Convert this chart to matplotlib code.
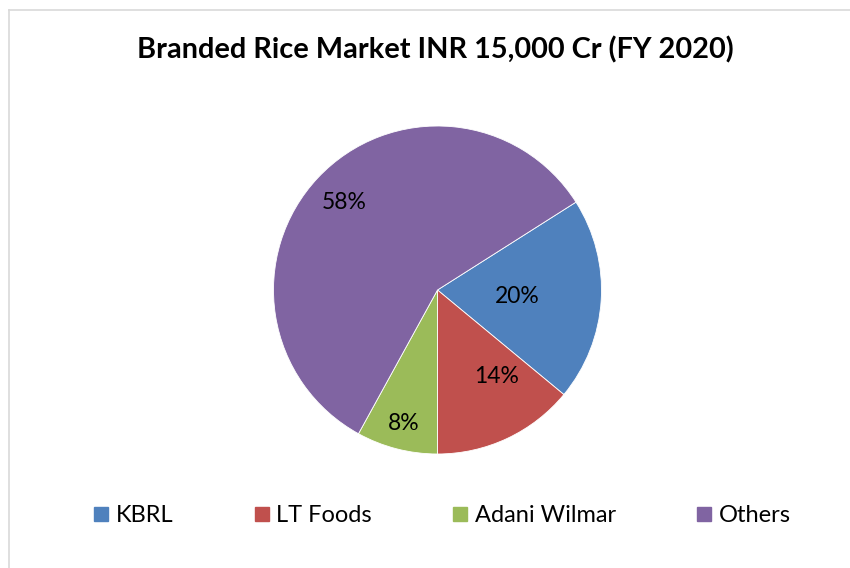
import matplotlib.pyplot as plt
from matplotlib.lines import Line2D
import numpy as np

plt.rcParams['font.family'] = ['Lato', 'DejaVu Sans']

labels = ["KBRL", "LT Foods", "Adani Wilmar", "Others"]
shares = [20, 14, 8, 58]
colors = ["#4F81BD", "#C0504D", "#9BBB59", "#8064A2"]

# label placement (fraction of radius, angle tweak in degrees)
lab_r = [0.49, 0.64, 0.84, 0.78]
lab_dang = [-1, 9, 0, 0]

fig = plt.figure(figsize=(8.5, 5.68), dpi=100)
W, H = 850, 568

# pie axes: center (437, 290), radius 164 px
cx, cy, R = 437.5, 290, 164
ax = fig.add_axes([(cx - R) / W, 1 - (cy + R) / H, 2 * R / W, 2 * R / H])
wedges, _ = ax.pie(shares, colors=colors, startangle=32.4, counterclock=False,
                   radius=1, wedgeprops=dict(edgecolor="white", linewidth=0.6))
ax.set_xlim(-1, 1)
ax.set_ylim(-1, 1)
ax.set_aspect("equal")

for w, s, r, d in zip(wedges, shares, lab_r, lab_dang):
    mid = np.deg2rad((w.theta1 + w.theta2) / 2 + d)
    ax.text(r * np.cos(mid), r * np.sin(mid), f"{s}%", ha="center", va="center",
            fontsize=16.5, color="black")

fig.text(435 / W, 1 - 50 / H, "Branded Rice Market INR 15,000 Cr (FY 2020)",
         ha="center", va="center", fontsize=20.8, fontweight="bold")

handles = [Line2D([], [], marker="s", linestyle="", markersize=10.5,
                  markerfacecolor=c, markeredgecolor=c) for c in colors]
fig.legend(handles, labels, loc="center", bbox_to_anchor=(442 / W, 1 - 516 / H),
           ncol=4, frameon=False, fontsize=17, handlelength=0.65, handletextpad=0.3,
           columnspacing=3.4)

# light gray chart border (top and left only visible)
fig.add_artist(Line2D([9 / W, 1], [1 - 10 / H, 1 - 10 / H], transform=fig.transFigure,
                      color="#D9D9D9", linewidth=1.2))
fig.add_artist(Line2D([9 / W, 9 / W], [1 - 10 / H, 0], transform=fig.transFigure,
                      color="#D9D9D9", linewidth=1.2))

fig.savefig("out.png", dpi=100, facecolor="white")
